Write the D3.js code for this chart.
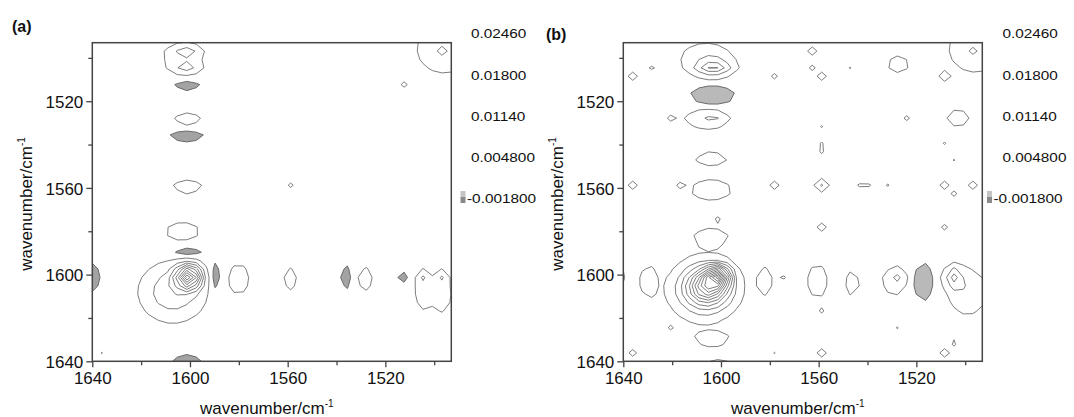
<!DOCTYPE html>
<html>
<head>
<meta charset="utf-8">
<script src="https://cdn.jsdelivr.net/npm/d3@7"></script>
<style>
  body { margin: 0; background: #fff; }
  svg { display: block; }
  text { font-family: "Liberation Sans", Arial, sans-serif; fill: #111; }
</style>
</head>
<body>
<div id="chart"></div>
<script>
// axis range (both axes, cm-1) and ticks
const wnHigh = 1640, wnLow = 1493;
const majorTicks = [1640, 1600, 1560, 1520];
const minorTicks = [1620, 1580, 1540, 1500];

// contour levels
const levelLabels = ["0.02460", "0.01800", "0.01140", "0.004800", "-0.001800"];
const negLevel = -0.0018;
const posLevels = [0.0048, 0.0114, 0.018, 0.0246, 0.0312, 0.0378, 0.0444, 0.051, 0.0576,
                   0.0642, 0.0708, 0.0774, 0.084, 0.0906, 0.0972, 0.1038, 0.1104];

// peaks: [x cm-1, y cm-1, amplitude, width x, width y]
const peaksA = [
  [1600.5, 1601, 0.056, 3.4, 3.6], [1607, 1608, 0.017, 9, 9],
  [1601.3, 1496.9, 0.011, 4, 2.2], [1601.3, 1504.6, 0.0108, 4, 2.2], [1604, 1500, 0.006, 8, 6],
  [1601.3, 1512.3, -0.006, 3.5, 1.8],
  [1601, 1528.5, 0.0085, 5, 3],
  [1601.3, 1535.6, -0.0075, 4, 1.8],
  [1601, 1559.5, 0.0085, 5.5, 3],
  [1603, 1580, 0.009, 6, 3.5],
  [1601.3, 1589.7, -0.008, 4, 1.8],
  [1601.3, 1640, -0.006, 3.5, 2],
  [1640, 1601.3, -0.006, 2, 4],
  [1589.7, 1601.3, -0.008, 1.8, 4.5],
  [1580, 1602, 0.009, 3.5, 6],
  [1559, 1602, 0.008, 2.8, 5],
  [1535.6, 1601.3, -0.0055, 1.8, 3.5],
  [1528.5, 1602, 0.0085, 3, 5],
  [1512.3, 1601.3, -0.005, 1.8, 1.8],
  [1504.6, 1601.3, 0.0085, 1.8, 2.5], [1496.9, 1601.3, 0.0085, 1.8, 2.5],
  [1505, 1609, 0.0068, 3.5, 8], [1496, 1610, 0.0068, 3.5, 8.5],
  [1496.9, 1496.9, 0.004, 1.5, 1.5], [1496, 1496, 0.01, 9, 9],
  [1512.3, 1512.3, 0.0065, 1.2, 1.2],
  [1558.8, 1558.8, 0.0065, 1.2, 1.2],
  [1636.1, 1636.1, 0.0052, 1.2, 1.2]
];

const peaksB = [
  [1601, 1600.5, 0.05, 3, 3], [1605, 1605, 0.04, 5, 5], [1607, 1607, 0.026, 8.5, 8.5],
  [1606, 1500, 0.009, 9, 6], [1603, 1504.6, 0.02, 5, 2.5],
  [1603.6, 1517.5, -0.01, 5, 2.8],
  [1606, 1528, 0.009, 8, 4], [1603, 1527.8, 0.005, 3, 2],
  [1620.7, 1527.8, 0.0052, 1.2, 1.2],
  [1604, 1546.5, 0.0085, 6, 3],
  [1604, 1561, 0.0095, 7, 4],
  [1601.3, 1574.2, 0.0055, 2, 1],
  [1604, 1582.5, 0.009, 6, 3.5],
  [1603.5, 1630, 0.01, 6, 2.3],
  [1601, 1642, 0.008, 6, 2.5],
  [1643, 1601, 0.009, 3, 6],
  [1630, 1603, 0.009, 2.5, 6.5],
  [1582, 1603, 0.009, 2.8, 5.5],
  [1574.2, 1601.3, 0.0055, 1, 2],
  [1560.5, 1603, 0.0095, 3.3, 6.5],
  [1546, 1604, 0.0085, 2.5, 5.5],
  [1527.8, 1601.3, 0.008, 2.5, 2.5], [1529, 1604, 0.0065, 5, 7],
  [1517.5, 1603.5, -0.009, 2.5, 5],
  [1499, 1608, 0.011, 6, 8], [1505, 1601, 0.017, 2.5, 3.5],
  [1628.4, 1504.6, 0.0055, 2.5, 1],
  [1636.1, 1508.5, 0.0094, 1.2, 1.2], [1636.1, 1558.8, 0.0094, 1.2, 1.2],
  [1636.1, 1636.1, 0.008, 1.2, 1.2], [1616.8, 1558.8, 0.0055, 1.2, 1.2],
  [1620.7, 1624.5, 0.0053, 1.2, 1.2], [1578.1, 1508.5, 0.007, 1.2, 1.2],
  [1578.1, 1558.8, 0.0094, 1.2, 1.2], [1578.1, 1636.1, 0.0052, 1.2, 1.2],
  [1562.6, 1496.9, 0.0094, 1.2, 1.2], [1562.6, 1504.6, 0.007, 1.2, 1.2],
  [1558.8, 1508.5, 0.0094, 1.2, 1.2], [1558.8, 1531.7, 0.0053, 1.2, 1.2],
  [1558.8, 1541.5, 0.007, 1.5, 3], [1558.8, 1558.8, 0.0125, 2.35, 2.35],
  [1558.8, 1578.1, 0.0094, 1.2, 1.2], [1558.8, 1616.8, 0.0053, 1.2, 1.2],
  [1558.8, 1636.1, 0.0094, 1.2, 1.2],
  [1547.2, 1504.6, 0.0053, 1.2, 1.2], [1541, 1508.5, 0.0055, 1.8, 1],
  [1541.4, 1558.8, 0.007, 3, 1.5], [1531.7, 1558.8, 0.0055, 1.2, 1.2],
  [1527.5, 1503, 0.0085, 4, 3.5], [1524, 1527.8, 0.0065, 1.8, 1.8],
  [1527.8, 1624.5, 0.0053, 1.2, 1.2],
  [1508.5, 1508.5, 0.0094, 1.2, 1.2], [1508.5, 1539.4, 0.0055, 1, 1.8],
  [1508.5, 1558.8, 0.0094, 1.2, 1.2], [1508.5, 1578.1, 0.007, 1.5, 1.2],
  [1508.5, 1636.1, 0.0094, 1.2, 1.2],
  [1504.6, 1547.2, 0.0053, 1.2, 1.2], [1504.6, 1631, 0.0065, 1.5, 2.5],
  [1504.6, 1562.6, 0.007, 1.2, 1.2], [1496.9, 1558.8, 0.0094, 1.2, 1.2],
  [1496, 1496, 0.0095, 9, 9], [1496.9, 1496.9, 0.004, 1.2, 1.2],
  [1503, 1527.8, 0.009, 4, 3.5]
];

const totalWidth = 1074, totalHeight = 417;
const n = 39, step = (wnHigh - wnLow) / (n - 1);

const panels = [
  {name: "a", label: "(a)", labelX: 12, labelY: 32, left: 92.3, peaks: peaksA,
   titleY: 32, cbText: 471, cbSwatch: 460.5, negFill: "#a3a3a3"},
  {name: "b", label: "(b)", labelX: 546, labelY: 40, left: 623.3, peaks: peaksB,
   titleY: 563, cbText: 1002.5, cbSwatch: 987, negFill: "#b9b9b9"}
];
const plotTop = 42.7, plotW = 359, plotH = 318.6;

const svg = d3.select("#chart")
  .append("svg")
    .attr("width", totalWidth)
    .attr("height", totalHeight);

panels.forEach(p => {
  const x = d3.scaleLinear().domain([wnHigh, wnLow]).range([p.left, p.left + plotW]);
  const y = d3.scaleLinear().domain([wnLow, wnHigh]).range([plotTop, plotTop + plotH]);

  // field on the sampling grid
  const values = new Array(n * n);
  for (let j = 0; j < n; j++) {
    for (let i = 0; i < n; i++) {
      const wx = wnHigh - i * step, wy = wnLow + j * step;
      let v = 0;
      p.peaks.forEach(([px, py, a, sx, sy]) => {
        v += a * Math.exp(-((wx - px) ** 2 / (2 * sx * sx) + (wy - py) ** 2 / (2 * sy * sy)));
      });
      values[j * n + i] = v;
    }
  }

  const proj = d3.geoTransform({
    point: function(cx, cy) {
      this.stream.point(x(wnHigh - (cx - 0.5) * step), y(wnLow + (cy - 0.5) * step));
    }
  });
  const path = d3.geoPath(proj);

  svg.append("clipPath").attr("id", "clip-" + p.name)
    .append("rect")
      .attr("x", p.left).attr("y", plotTop).attr("width", plotW).attr("height", plotH);

  const g = svg.append("g").attr("clip-path", "url(#clip-" + p.name + ")");

  // negative regions, filled
  const neg = d3.contours().size([n, n]).thresholds([-negLevel])(values.map(v => -v));
  g.selectAll("path.neg")
    .data(neg)
    .enter().append("path")
      .attr("class", "neg")
      .attr("d", path)
      .attr("fill", p.negFill)
      .attr("stroke", "#6a6a6a")
      .attr("stroke-width", 1);

  // positive contour lines
  const pos = d3.contours().size([n, n]).thresholds(posLevels)(values);
  g.selectAll("path.pos")
    .data(pos)
    .enter().append("path")
      .attr("class", "pos")
      .attr("d", path)
      .attr("fill", "none")
      .attr("stroke", "#6e6e6e")
      .attr("stroke-width", 0.9);

  // axes
  const axX = svg.append("g").attr("transform", "translate(0," + (plotTop + plotH) + ")")
    .call(d3.axisBottom(x).tickValues(majorTicks).tickSize(6).tickPadding(5).tickFormat(d3.format("d")));
  svg.append("g").attr("transform", "translate(0," + (plotTop + plotH) + ")")
    .call(d3.axisBottom(x).tickValues(minorTicks).tickSize(4).tickFormat(""));
  const axY = svg.append("g").attr("transform", "translate(" + p.left + ",0)")
    .call(d3.axisLeft(y).tickValues(majorTicks).tickSize(6).tickPadding(3).tickFormat(d3.format("d")));
  svg.append("g").attr("transform", "translate(" + p.left + ",0)")
    .call(d3.axisLeft(y).tickValues(minorTicks).tickSize(4).tickFormat(""));
  svg.selectAll(".domain").remove();
  svg.selectAll(".tick line").attr("stroke", "#444").attr("stroke-width", 1.3);
  axX.selectAll("text").style("font-size", "17px").attr("fill", "#111");
  axY.selectAll("text").style("font-size", "17px").attr("fill", "#111").attr("dy", "0.36em");

  svg.append("rect")
    .attr("x", p.left).attr("y", plotTop).attr("width", plotW).attr("height", plotH)
    .attr("fill", "none").attr("stroke", "#444").attr("stroke-width", 1.5);

  // titles
  const xt = svg.append("text")
    .attr("x", p.left + plotW / 2 - 5).attr("y", 414)
    .attr("text-anchor", "middle").style("font-size", "17px");
  xt.append("tspan").text("wavenumber/cm");
  xt.append("tspan").attr("dy", -7).style("font-size", "10px").text("-1");

  const yt = svg.append("text")
    .attr("transform", "translate(" + p.titleY + "," + (plotTop + plotH / 2 + 2) + ") rotate(-90)")
    .attr("text-anchor", "middle").style("font-size", "17px");
  yt.append("tspan").text("wavenumber/cm");
  yt.append("tspan").attr("dy", -7).style("font-size", "10px").text("-1");

  svg.append("text")
    .attr("x", p.labelX).attr("y", p.labelY)
    .style("font-size", "16px").style("font-weight", "bold")
    .text(p.label);

  // level legend
  const cbY = [33, 75, 116, 157, 198];
  levelLabels.forEach((t, k) => {
    svg.append("text")
      .attr("transform", "translate(" + (k === 4 ? p.cbSwatch + 6.5 : p.cbText) + "," + (cbY[k] + 4.6) + ") scale(1.18,1)")
      .style("font-size", "13px").attr("fill", "#222")
      .text(t);
  });
  svg.append("rect").attr("x", p.cbSwatch).attr("y", 191).attr("width", 5).attr("height", 6).attr("fill", "#c4c4c4");
  svg.append("rect").attr("x", p.cbSwatch).attr("y", 197).attr("width", 5).attr("height", 6).attr("fill", "#8a8a8a");
});
</script>
</body>
</html>
